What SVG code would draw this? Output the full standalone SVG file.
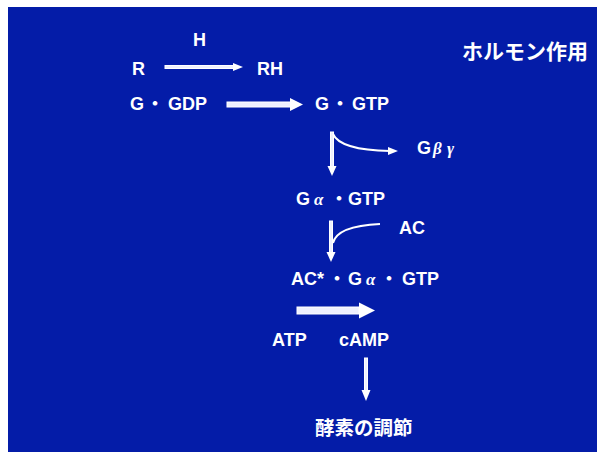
<svg xmlns="http://www.w3.org/2000/svg" width="597" height="452" viewBox="0 0 597 452">
<defs>
<style>
text{font-family:"Liberation Sans","Noto Sans CJK JP",sans-serif;font-weight:bold;fill:#fff;font-size:18px}
.gr{font-style:italic;font-family:"Liberation Serif","Noto Sans CJK JP",serif;font-size:17px}
.dot{font-family:"Noto Sans CJK JP",sans-serif;font-size:18px}
.ln{stroke:#fff;fill:none}
.sh{fill:#eef0ff;stroke:#fff;stroke-width:1}
.hd{fill:#fff}
</style>
</defs>
<rect x="8" y="7" width="589" height="445" fill="#041ca8"/>
<g id="title"><text x="462" y="59" style="font-size:21px">ホルモン作用</text></g>
<g id="H"><text x="193" y="46">H</text></g>
<g id="R"><text x="132" y="75">R</text></g>
<g id="RH"><text x="257" y="75">RH</text></g>
<g id="GGDP"><text x="130" y="110">G<tspan class="dot" x="146">・</tspan><tspan x="168">GDP</tspan></text></g>
<g id="GGTP"><text x="315" y="110">G<tspan class="dot" x="331">・</tspan><tspan x="352">GTP</tspan></text></g>
<g id="Gbg"><text x="417" y="154">G<tspan class="gr" x="433">β</tspan><tspan class="gr" x="447">γ</tspan></text></g>
<g id="GaGTP"><text x="296" y="205">G<tspan class="gr" x="314">α</tspan><tspan class="dot" x="330">・</tspan><tspan x="348">GTP</tspan></text></g>
<g id="AC"><text x="399" y="234">AC</text></g>
<g id="ACGaGTP"><text x="291" y="285">AC*<tspan class="dot" x="328">・</tspan><tspan x="348">G</tspan><tspan class="gr" x="366">α</tspan><tspan class="dot" x="380">・</tspan><tspan x="402">GTP</tspan></text></g>
<g id="ATP"><text x="272" y="346">ATP</text></g>
<g id="cAMP"><text x="339" y="346">cAMP</text></g>
<g id="enzyme"><text x="315" y="435" style="font-size:19.5px">酵素の調節</text></g>
<g id="connectors">
<rect class="sh" x="165" y="65.5" width="69" height="3"/>
<polygon class="hd" points="233,63 243,67 233,71"/>
<rect class="sh" x="227" y="102" width="64" height="5"/>
<polygon class="hd" points="290,98 303,104.5 290,111"/>
<rect class="sh" x="330.5" y="132" width="3" height="35"/>
<polygon class="hd" points="327.5,166 332,176 336.5,166"/>
<path class="ln" d="M333,134 Q340,150 390,151" stroke-width="2"/>
<polygon class="hd" points="388,147 398,151 388,155"/>
<rect class="sh" x="329.5" y="221" width="3" height="32"/>
<polygon class="hd" points="326.5,252 331,262 335.5,252"/>
<path class="ln" d="M333,243 Q337,226 380,224" stroke-width="2"/>
<rect class="sh" x="297" y="307" width="62" height="7"/>
<polygon class="hd" points="359,302.5 375,310.5 359,318.5"/>
<rect class="sh" x="364.5" y="358" width="3" height="33"/>
<polygon class="hd" points="361.5,390 366,401 370.5,390"/>
</g>
</svg>
